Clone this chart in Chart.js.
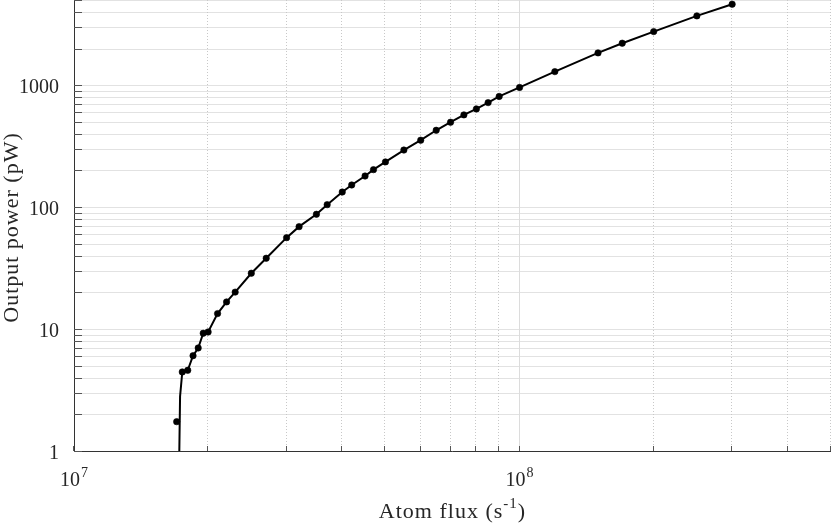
<!DOCTYPE html>
<html>
<head>
<meta charset="utf-8">
<script src="https://cdn.jsdelivr.net/npm/chart.js@4.4.1/dist/chart.umd.min.js"></script>
<style>
html,body{margin:0;padding:0;background:#fff;overflow:hidden}
#wrap{width:831px;height:526px;position:relative}
</style>
</head>
<body>
<div id="wrap"><canvas id="c" width="831" height="526"></canvas></div>
<script>
// ---- data ----
const atomFlux = [1.70e7, 1.75e7, 1.80e7, 1.85e7, 1.90e7, 1.95e7, 2.00e7, 2.10e7, 2.20e7, 2.30e7,
  2.50e7, 2.70e7, 3.00e7, 3.20e7, 3.50e7, 3.70e7, 4.00e7, 4.20e7, 4.50e7, 4.70e7,
  5.00e7, 5.50e7, 6.00e7, 6.50e7, 7.00e7, 7.50e7, 8.00e7, 8.50e7, 9.00e7, 1.00e8,
  1.20e8, 1.50e8, 1.70e8, 2.00e8, 2.50e8, 3.00e8];
const outputPower = [1.74, 4.45, 4.59, 6.05, 7.0, 9.24, 9.47, 13.4, 16.7, 20.1,
  28.7, 38.1, 56.2, 69.2, 87.4, 104.8, 133, 152, 180, 203,
  235, 294, 354, 427, 497, 571, 639, 720, 809, 959,
  1293, 1841, 2211, 2753, 3703, 4618];
// start of the drawn curve (threshold part), then it follows the measured points from the 2nd one
const curveStartFlux = [1.72e7, 1.73e7];
const curveStartPower = [0.6, 2.8];

// ---- ticks / labels ----
const xTickValues = [1e7, 2e7, 3e7, 4e7, 5e7, 6e7, 7e7, 8e7, 9e7, 1e8, 2e8, 3e8, 4e8, 5e8];
const xLabelValues = [1e7, 1e8];
const xLabelBase = ['10', '10'];
const xLabelExp = ['7', '8'];
const yTickValues = [1, 2, 3, 4, 5, 6, 7, 8, 9, 10, 20, 30, 40, 50, 60, 70, 80, 90,
  100, 200, 300, 400, 500, 600, 700, 800, 900, 1000, 2000, 3000, 4000, 5000];
const yLabelValues = [1, 10, 100, 1000];
const yLabels = ['1', '10', '100', '1000'];
const xTitleMain = 'Atom flux (s';
const xTitleSup = '-1';
const xTitleEnd = ')';
const yTitle = 'Output power (pW)';

const markerPts = atomFlux.map((v, i) => ({x: v, y: outputPower[i]}));
const curvePts = curveStartFlux.map((v, i) => ({x: v, y: curveStartPower[i]}))
  .concat(markerPts.slice(1));

const FONT = 'Liberation Serif';
const TXT = '#262626';

const framePlugin = {
  id: 'frame',
  beforeDatasetsDraw(chart) {
    const {ctx, chartArea: a, scales: {x, y}} = chart;
    ctx.save();
    ctx.lineWidth = 1;
    // horizontal grid lines (solid, light)
    ctx.strokeStyle = '#e2e2e2';
    yTickValues.forEach(v => {
      if (v === 1) return;
      const py = Math.round(y.getPixelForValue(v)) + 0.5;
      ctx.beginPath(); ctx.moveTo(a.left, py); ctx.lineTo(a.right, py); ctx.stroke();
    });
    // vertical grid lines
    xTickValues.forEach(v => {
      if (v === 1e7) return;
      const px = Math.round(x.getPixelForValue(v)) - 0.5;
      if (xLabelValues.includes(v)) {
        ctx.setLineDash([]); ctx.strokeStyle = '#dcdcdc';
      } else {
        ctx.setLineDash([1, 2]); ctx.strokeStyle = '#c8c8c8';
      }
      ctx.beginPath(); ctx.moveTo(px, a.top); ctx.lineTo(px, a.bottom); ctx.stroke();
    });
    ctx.restore();
  },
  afterDatasetsDraw(chart) {
    const {ctx, chartArea: a, scales: {x, y}} = chart;
    ctx.save();
    // axes lines
    ctx.strokeStyle = '#333';
    ctx.lineWidth = 1;
    ctx.beginPath();
    ctx.moveTo(a.left + 0.5, a.top); ctx.lineTo(a.left + 0.5, a.bottom + 0.5);
    ctx.lineTo(a.right, a.bottom + 0.5);
    ctx.stroke();
    // inward tick marks
    ctx.strokeStyle = '#555';
    yTickValues.forEach(v => {
      const py = Math.round(y.getPixelForValue(v)) + 0.5;
      ctx.beginPath(); ctx.moveTo(a.left, py); ctx.lineTo(a.left + 8, py); ctx.stroke();
    });
    xTickValues.forEach(v => {
      const px = Math.round(x.getPixelForValue(v)) - 0.5;
      ctx.beginPath(); ctx.moveTo(px, a.bottom); ctx.lineTo(px, a.bottom - 5); ctx.stroke();
    });
    // x tick labels with superscript exponent
    ctx.fillStyle = TXT;
    ctx.textBaseline = 'alphabetic';
    ctx.textAlign = 'left';
    xLabelValues.forEach((v, i) => {
      const px = x.getPixelForValue(v);
      ctx.font = '20px "' + FONT + '"';
      const wb = ctx.measureText(xLabelBase[i]).width;
      ctx.font = '14px "' + FONT + '"';
      const we = ctx.measureText(xLabelExp[i]).width;
      const x0 = px - (wb + we + 1) / 2;
      ctx.font = '20px "' + FONT + '"';
      ctx.fillText(xLabelBase[i], x0, a.bottom + 35);
      ctx.font = '14px "' + FONT + '"';
      ctx.fillText(xLabelExp[i], x0 + wb + 1, a.bottom + 26);
    });
    // x title
    ctx.font = '22px "' + FONT + '"';
    ctx.letterSpacing = '1px';
    const w1 = ctx.measureText(xTitleMain).width;
    const w3 = ctx.measureText(xTitleEnd).width;
    ctx.font = '15px "' + FONT + '"';
    const w2 = ctx.measureText(xTitleSup).width;
    const cx = (a.left + a.right) / 2;
    let tx = cx - (w1 + w2 + w3) / 2;
    const base = a.bottom + 67;
    ctx.font = '22px "' + FONT + '"';
    ctx.fillText(xTitleMain, tx, base); tx += w1;
    ctx.font = '15px "' + FONT + '"';
    ctx.fillText(xTitleSup, tx, base - 10); tx += w2;
    ctx.font = '22px "' + FONT + '"';
    ctx.fillText(xTitleEnd, tx, base);
    // y title
    ctx.translate(12, (a.top + a.bottom) / 2 + 2);
    ctx.rotate(-Math.PI / 2);
    ctx.textAlign = 'center';
    ctx.textBaseline = 'middle';
    ctx.font = '22px "' + FONT + '"';
    ctx.fillText(yTitle, 0, 0);
    ctx.restore();
  }
};

new Chart(document.getElementById('c'), {
  type: 'line',
  data: {
    datasets: [
      {
        label: 'curve',
        data: curvePts,
        borderColor: '#000',
        borderWidth: 2,
        pointRadius: 0,
        tension: 0,
        fill: false
      },
      {
        label: 'measured',
        data: markerPts,
        showLine: false,
        borderColor: '#000',
        backgroundColor: '#000',
        pointRadius: 3.2,
        pointBorderWidth: 0.6,
        pointHoverRadius: 3.2,
        clip: 6
      }
    ]
  },
  options: {
    responsive: false,
    animation: false,
    devicePixelRatio: 1,
    layout: {padding: 0, autoPadding: false},
    plugins: {legend: {display: false}, tooltip: {enabled: false}},
    events: [],
    scales: {
      x: {
        type: 'logarithmic',
        position: 'bottom',
        min: 1e7,
        max: 5e8,
        grid: {display: false},
        border: {display: false},
        ticks: {display: false},
        afterBuildTicks: s => { s.ticks = xTickValues.map(v => ({value: v})); },
        afterFit: s => { s.height = 75; s.paddingLeft = 0; s.paddingRight = 0; s.paddingTop = 0; s.paddingBottom = 0; }
      },
      y: {
        type: 'logarithmic',
        position: 'left',
        min: 1,
        max: 5000,
        grid: {display: false},
        border: {display: false},
        ticks: {
          font: {family: FONT, size: 20},
          color: TXT,
          padding: 7,
          labelOffset: 3,
          autoSkip: false,
          maxRotation: 0,
          callback: v => {
            const i = yLabelValues.indexOf(v);
            return i >= 0 ? yLabels[i] : null;
          }
        },
        afterBuildTicks: s => { s.ticks = yTickValues.map(v => ({value: v})); },
        afterFit: s => { s.width = 74; s.paddingTop = 0; s.paddingBottom = 0; s.paddingLeft = 0; s.paddingRight = 0; }
      }
    }
  },
  plugins: [framePlugin]
});
</script>
</body>
</html>
